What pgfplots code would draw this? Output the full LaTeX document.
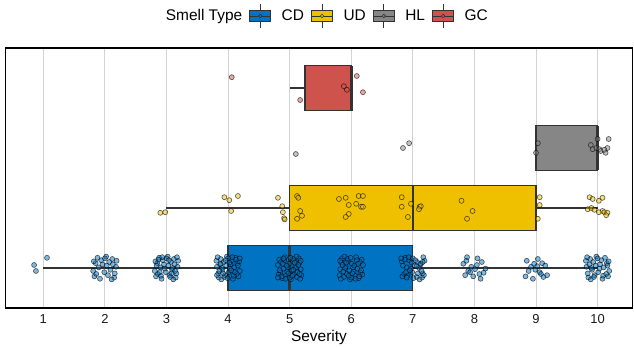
\documentclass[border=0pt]{standalone}
\usepackage{pgfplots}
\pgfplotsset{compat=1.18}
\usepgfplotslibrary{statistics}
\usepackage{fontspec}
\setmainfont{Liberation Sans}
\definecolor{cdcol}{HTML}{0073C2}
\definecolor{udcol}{HTML}{EFC000}
\definecolor{hlcol}{HTML}{868686}
\definecolor{gccol}{HTML}{CD534C}
\definecolor{boxline}{HTML}{333333}
\definecolor{gridc}{HTML}{D3D3D3}
\pgfplotsset{
  jit/.style={only marks, mark=*, mark size=2.5bp,
    mark options={fill=#1, fill opacity=0.5, draw=black, draw opacity=0.65, line width=0.6bp}},
  bx/.style={solid, fill=#1, draw=boxline, line width=1.2bp},
  legbox/.style={legend image code/.code={
    \draw[draw=boxline, line width=0.9bp] (10.5bp,-12bp) -- (10.5bp,12bp);
    \draw[fill=#1, draw=boxline, line width=1bp] (0bp,-5.5bp) rectangle (21bp,5.5bp);
    \draw[draw=boxline, line width=0.9bp] (0bp,0bp) -- (21bp,0bp);
    \draw[fill=#1, draw=boxline, line width=0.6bp] (10.5bp,0bp) circle (1.8bp);
  }},
}
\begin{document}
\begin{tikzpicture}
\useasboundingbox (0,0) rectangle (634bp,347bp);
\begin{axis}[
  at={(5.5bp,39bp)}, anchor=south west,
  scale only axis, width=627bp, height=260bp,
  xmin=0.386, xmax=10.567, ymin=0.333, ymax=4.667,
  xtick={1,2,3,4,5,6,7,8,9,10}, ytick=\empty,
  xmajorgrids, grid style={gridc, line width=0.9bp},
  axis line style={black, line width=1.1bp},
  major tick length=0pt,
  /pgf/number format/assume math mode=true,
  xticklabel style={font=\fontsize{13}{13}\selectfont, text=black!90, yshift=-3bp},
  xlabel={Severity},
  xlabel style={font=\fontsize{15.5}{15.5}\selectfont, yshift=0bp},
  boxplot/every median/.style={line width=2.6bp},
  legend columns=-1,
  legend style={at={(0.5056,1)}, anchor=center, yshift=32bp, draw=none, fill=none,
    font=\fontsize{15.5}{15.5}\selectfont,
    /tikz/every odd column/.append style={column sep=8.5bp},
    /tikz/every even column/.append style={column sep=5bp},
    inner sep=0pt},
]
\addlegendimage{empty legend}
\addlegendentry{Smell Type\hspace{4bp}}
\addlegendimage{legbox=cdcol}
\addlegendentry{CD}
\addlegendimage{legbox=udcol}
\addlegendentry{UD}
\addlegendimage{legbox=hlcol}
\addlegendentry{HL}
\addlegendimage{legbox=gccol}
\addlegendentry{GC}

% boxes
\addplot[bx=cdcol, boxplot prepared={lower whisker=1, lower quartile=4, median=5,
  upper quartile=7, upper whisker=10, draw position=1, box extend=0.75, whisker extend=0}]
  coordinates {};
\addplot[bx=udcol, boxplot prepared={lower whisker=3, lower quartile=5, median=7,
  upper quartile=9, upper whisker=10, draw position=2, box extend=0.75, whisker extend=0}]
  coordinates {};
\addplot[bx=hlcol, boxplot prepared={lower whisker=9, lower quartile=9, median=10,
  upper quartile=10, upper whisker=10, draw position=3, box extend=0.75, whisker extend=0}]
  coordinates {};
\addplot[bx=gccol, boxplot prepared={lower whisker=5, lower quartile=5.25, median=6,
  upper quartile=6, upper whisker=6, draw position=4, box extend=0.75, whisker extend=0}]
  coordinates {};

% CD points
\addplot[jit=cdcol] coordinates {
(0.85,1.05)(0.88,0.95)(1.06,1.17)
(2.12,1.15)(1.85,1.08)(2.05,0.88)(1.92,0.82)(2.18,1.02)(1.81,0.95)(2.02,1.19)(2.09,0.97)(1.96,1.06)(2.15,0.84)(1.88,1.17)(2.07,1.10)(1.83,0.86)(2.19,1.12)(1.99,0.93)(2.11,0.81)(1.90,1.01)(2.03,1.04)(1.94,1.13)(2.16,0.91)(1.86,0.90)(2.00,1.16)(2.13,1.06)(1.82,1.11)
(3.12,1.15)(2.85,1.08)(3.05,0.88)(2.92,0.82)(3.18,1.02)(2.81,0.95)(3.02,1.19)(3.09,0.97)(2.96,1.06)(3.15,0.84)(2.88,1.17)(3.07,1.10)(2.83,0.86)(3.19,1.12)(2.99,0.93)(3.11,0.81)(2.90,1.01)(3.03,1.04)(2.94,1.13)(3.16,0.91)(2.86,0.90)(3.00,1.16)(3.13,1.06)(2.82,1.11)(3.06,0.85)(2.97,0.99)(3.17,1.18)(2.91,0.87)(3.10,1.00)(2.84,1.04)(3.04,1.13)(2.89,0.93)(3.14,0.95)(2.93,1.18)(3.08,0.91)(2.87,1.14)
(3.88,1.15)(4.15,1.08)(3.95,0.88)(4.08,0.82)(3.82,1.02)(4.19,0.95)(3.98,1.19)(3.91,0.97)(4.04,1.06)(3.85,0.84)(4.12,1.17)(3.93,1.10)(4.17,0.86)(3.81,1.12)(4.01,0.93)(3.89,0.81)(4.10,1.01)(3.97,1.04)(4.06,1.13)(3.84,0.91)(4.14,0.90)(4.00,1.16)(3.87,1.06)(4.18,1.11)(3.94,0.85)(4.03,0.99)(3.83,1.18)(4.09,0.87)(3.90,1.00)(4.16,1.04)(3.96,1.13)(4.11,0.93)(3.86,0.95)(4.07,1.18)(3.92,0.91)(4.13,1.14)(3.99,0.83)(4.02,1.09)(3.82,0.88)(4.05,0.96)(3.88,1.07)(4.19,1.16)
(5.12,0.85)(4.85,0.92)(5.05,1.12)(4.92,1.18)(5.18,0.98)(4.81,1.05)(5.02,0.81)(5.09,1.03)(4.96,0.94)(5.15,1.16)(4.88,0.83)(5.07,0.90)(4.83,1.14)(5.19,0.88)(4.99,1.07)(5.11,1.19)(4.90,0.99)(5.03,0.96)(4.94,0.87)(5.16,1.09)(4.86,1.10)(5.00,0.84)(5.13,0.94)(4.82,0.89)(5.06,1.15)(4.97,1.01)(5.17,0.82)(4.91,1.13)(5.10,1.00)(4.84,0.96)(5.04,0.87)(4.89,1.07)(5.14,1.05)(4.93,0.82)(5.08,1.09)(4.87,0.86)(5.01,1.17)(4.98,0.91)(5.18,1.12)(4.95,1.04)(5.12,0.93)(4.81,0.84)(5.06,0.97)(4.90,1.16)(5.16,0.90)
(5.88,0.85)(6.15,0.92)(5.95,1.12)(6.08,1.18)(5.82,0.98)(6.19,1.05)(5.98,0.81)(5.91,1.03)(6.04,0.94)(5.85,1.16)(6.12,0.83)(5.93,0.90)(6.17,1.14)(5.81,0.88)(6.01,1.07)(5.89,1.19)(6.10,0.99)(5.97,0.96)(6.06,0.87)(5.84,1.09)(6.14,1.10)(6.00,0.84)(5.87,0.94)(6.18,0.89)(5.94,1.15)(6.03,1.01)(5.83,0.82)(6.09,1.13)(5.90,1.00)(6.16,0.96)(5.96,0.87)(6.11,1.07)(5.86,1.05)(6.07,0.82)(5.92,1.09)(6.13,0.86)(5.99,1.17)(6.02,0.91)(5.82,1.12)(6.05,1.04)
(7.15,0.84)(6.88,1.17)(7.07,1.10)(6.83,0.86)(7.19,1.12)(6.99,0.93)(7.11,0.81)(6.90,1.01)(7.03,1.04)(6.94,1.13)(7.16,0.91)(6.86,0.90)(7.00,1.16)(7.13,1.06)(6.82,1.11)(7.06,0.85)(6.97,0.99)(7.17,1.18)(6.91,0.87)(7.10,1.00)(6.84,1.04)(7.04,1.13)(6.89,0.93)(7.14,0.95)(6.93,1.18)(7.08,0.91)(6.87,1.14)(7.01,0.83)(6.98,1.09)(7.18,0.88)(6.95,0.96)(7.12,1.07)(6.81,1.16)(7.06,1.03)(6.90,0.84)(7.16,1.10)
(7.88,1.18)(8.05,1.16)(7.82,1.07)(8.12,1.10)(7.95,1.02)(8.01,0.98)(7.90,0.95)(8.08,0.90)(7.85,0.88)(8.15,0.92)(7.98,0.86)(8.04,1.05)(7.93,0.93)(8.18,0.99)(8.10,0.82)(7.87,1.12)
(8.85,1.12)(9.03,1.15)(9.10,1.08)(8.92,1.02)(9.15,1.04)(8.99,0.97)(9.06,0.93)(8.83,0.86)(9.18,0.88)(8.95,0.82)(9.12,0.85)(8.88,0.95)(9.02,1.03)(9.08,0.90)(8.97,1.07)
(9.88,1.15)(10.15,1.08)(9.95,0.88)(10.08,0.82)(9.82,1.02)(10.19,0.95)(9.98,1.19)(9.91,0.97)(10.04,1.06)(9.85,0.84)(10.12,1.17)(9.93,1.10)(10.17,0.86)(9.81,1.12)(10.01,0.93)(9.89,0.81)(10.10,1.01)(9.97,1.04)(10.06,1.13)(9.84,0.91)(10.14,0.90)(10.00,1.16)(9.87,1.06)(10.18,1.11)(9.94,0.85)(10.03,0.99)(9.83,1.18)(10.09,0.87)(9.90,1.00)(10.16,1.04)
};

% UD points
\addplot[jit=udcol] coordinates {
(2.90,1.92)(2.98,1.93)(3.94,2.18)(4.02,2.13)(4.16,2.20)(4.05,1.95)
(4.81,2.17)(4.88,2.03)(4.89,1.93)(4.91,1.83)(4.92,1.81)
(5.12,1.82)(5.12,2.20)(5.14,2.17)(5.17,1.95)(5.20,1.87)
(5.80,2.15)(5.91,2.17)(5.96,2.05)(6.12,2.20)(6.19,2.20)(6.08,2.07)(6.16,2.02)(6.19,2.02)(5.96,1.90)(5.91,1.85)
(6.82,2.18)(6.82,2.02)(6.92,1.85)(6.97,2.07)(7.11,2.02)(7.13,2.03)(7.10,1.98)
(7.79,2.12)(7.97,1.95)(7.88,1.82)
(9.06,2.18)(9.06,2.05)(9.03,1.82)
(9.87,2.18)(9.92,2.15)(10.02,2.12)(10.08,2.17)(9.84,1.98)(9.90,2.00)(9.95,1.97)(10.08,1.95)(10.11,1.93)(10.16,1.92)(10.14,1.88)(10.02,1.93)
};

% HL points
\addplot[jit=hlcol] coordinates {
(5.10,2.90)(6.84,3.00)(6.94,3.08)
(9.03,3.08)(9.00,2.92)
(10.00,3.15)(10.18,3.15)(9.89,3.05)(9.92,2.98)(9.98,3.00)(10.03,2.98)(10.05,2.95)(10.13,2.92)(10.16,3.00)(10.11,2.97)
};

% GC points
\addplot[jit=gccol] coordinates {
(4.06,4.18)(5.17,3.80)(5.88,4.03)(5.93,3.97)(6.09,4.20)(6.19,3.93)
};
\end{axis}
\end{tikzpicture}
\end{document}
